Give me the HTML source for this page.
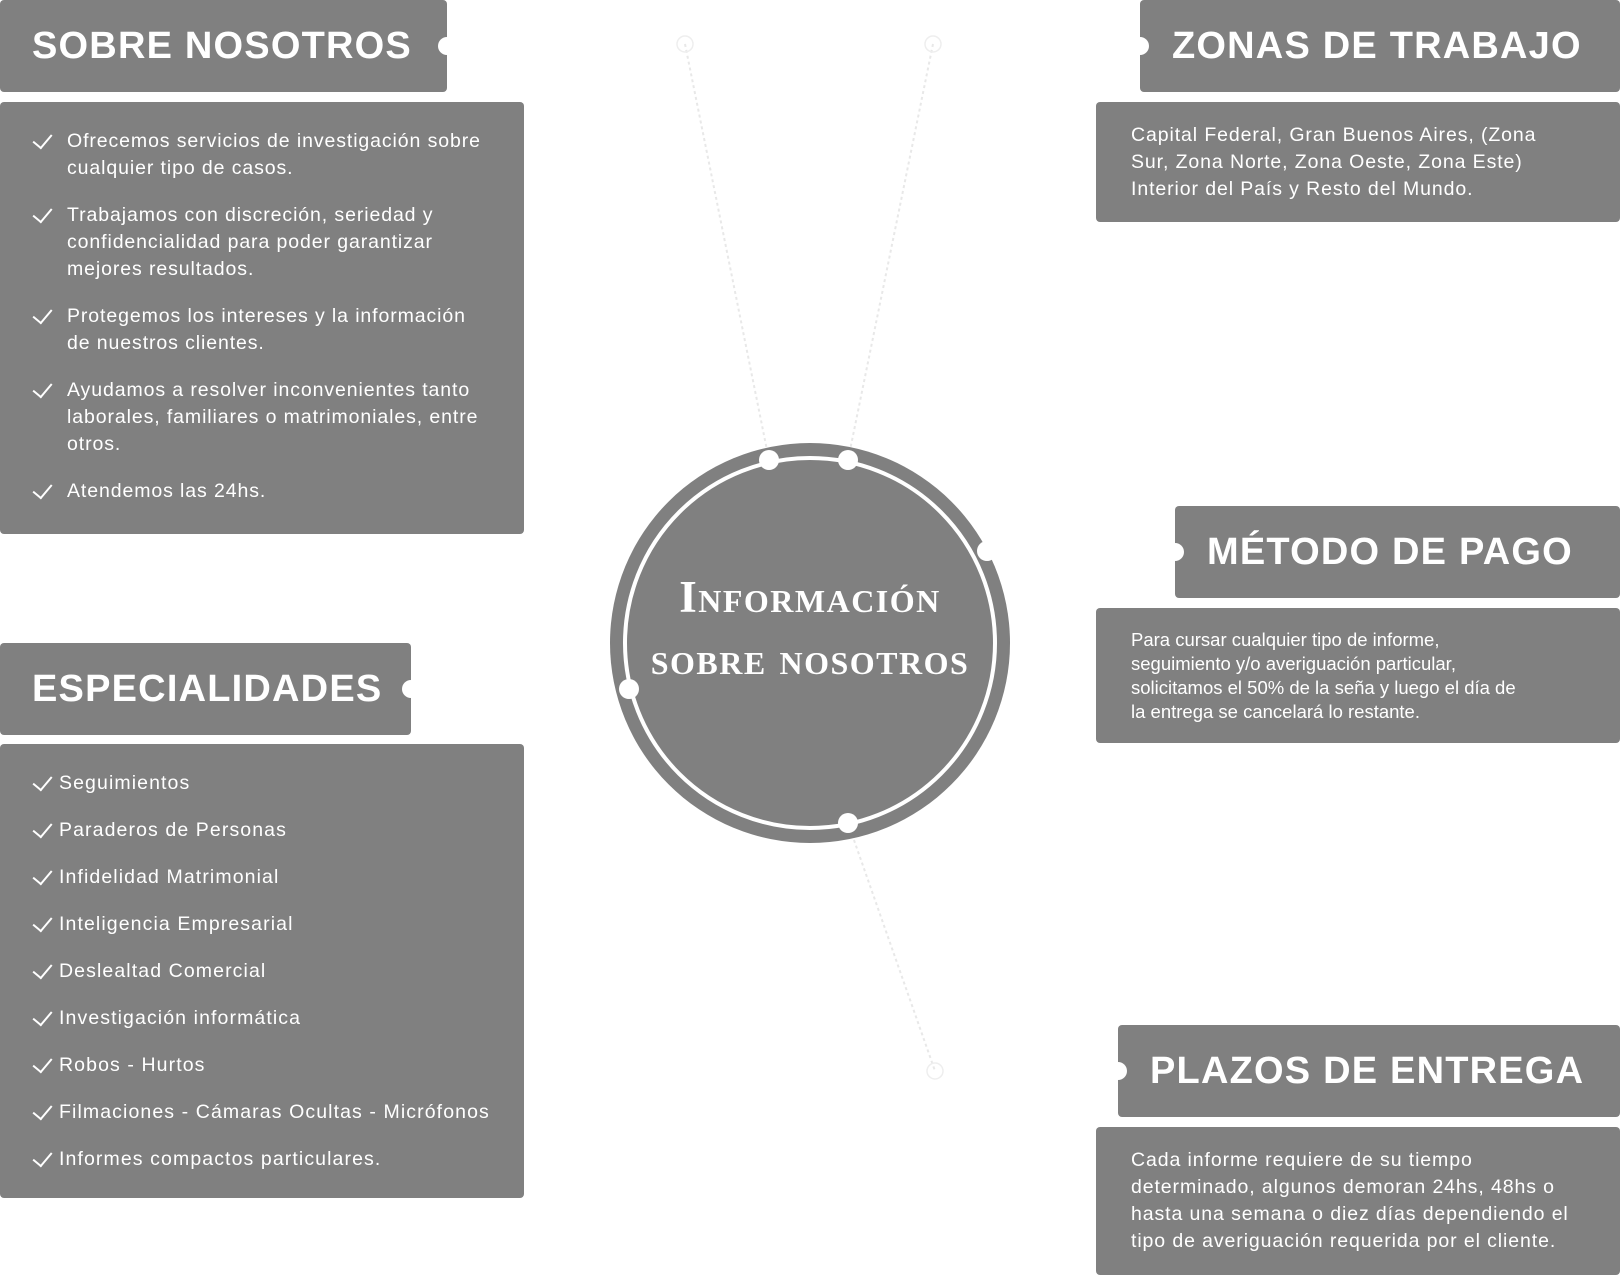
<!DOCTYPE html>
<html><head><meta charset="utf-8"><style>
body{margin:0;width:1620px;height:1275px;background:#fff;position:relative;overflow:hidden;font-family:"Liberation Sans",sans-serif;}
.b{position:absolute;background:#808080;border-radius:4px;color:#fff;}
.h{font-weight:bold;font-size:38px;letter-spacing:1.2px;line-height:92px;}
.dot{position:absolute;width:18px;height:18px;border-radius:50%;background:#fff;}
ul{list-style:none;margin:0;padding:0;}
.l1 li{position:relative;padding-left:67px;font-size:19.5px;line-height:27px;letter-spacing:.9px;margin-bottom:20px;}
.l2 li{position:relative;padding-left:59px;font-size:19.5px;line-height:27px;letter-spacing:1.1px;height:47px;}
.ck{position:absolute;top:2px;width:9px;height:16px;border-right:2px solid #fff;border-bottom:2px solid #fff;transform:rotate(40deg);}
.t{font-size:19.5px;line-height:27px;letter-spacing:.9px;}
</style></head><body>
<svg width="1620" height="1275" style="position:absolute;left:0;top:0">
<g stroke="#e8e8e8" stroke-width="2" stroke-dasharray="3 3" fill="none">
<line x1="685" y1="44" x2="769" y2="460"/>
<line x1="933" y1="44" x2="848" y2="460"/>
<line x1="848" y1="823" x2="935" y2="1071"/>
</g>
<g fill="none" stroke="#eeeeee" stroke-width="1.5"><circle cx="685" cy="44" r="8"/><circle cx="933" cy="44" r="8"/><circle cx="935" cy="1071" r="8"/></g>
<circle cx="810" cy="643" r="200" fill="#808080"/>
<circle cx="810" cy="643" r="185" fill="none" stroke="#fff" stroke-width="4"/>
<g fill="#fff"><circle cx="769" cy="460" r="10"/><circle cx="848" cy="460" r="10"/><circle cx="987" cy="551" r="10"/><circle cx="629" cy="689" r="10"/><circle cx="848" cy="823" r="10"/></g>
<text x="810" y="612" text-anchor="middle" fill="#fff" font-family="Liberation Serif" font-weight="bold" font-size="45" style="font-variant:small-caps" letter-spacing="1.5">Información</text>
<text x="810" y="674" text-anchor="middle" fill="#fff" font-family="Liberation Serif" font-weight="bold" font-size="45" style="font-variant:small-caps" letter-spacing="1.5">sobre nosotros</text>
</svg>

<div class="b h" style="left:0;top:0;width:447px;height:92px;"><span style="margin-left:32px">SOBRE NOSOTROS</span></div>
<div class="dot" style="left:438px;top:37px"></div>
<div class="b" style="left:0;top:102px;width:524px;height:432px;">
<ul class="l1" style="margin-top:26px;padding-right:30px">
<li><span class="ck" style="left:37px"></span>Ofrecemos servicios de investigación sobre cualquier tipo de casos.</li>
<li><span class="ck" style="left:37px"></span>Trabajamos con discreción, seriedad y confidencialidad para poder garantizar mejores resultados.</li>
<li><span class="ck" style="left:37px"></span>Protegemos los intereses y la información de nuestros clientes.</li>
<li><span class="ck" style="left:37px"></span>Ayudamos a resolver inconvenientes tanto laborales, familiares o matrimoniales, entre otros.</li>
<li><span class="ck" style="left:37px"></span>Atendemos las 24hs.</li>
</ul></div>

<div class="b h" style="left:0;top:643px;width:411px;height:92px;"><span style="margin-left:32px">ESPECIALIDADES</span></div>
<div class="dot" style="left:402px;top:680px"></div>
<div class="b" style="left:0;top:744px;width:524px;height:454px;">
<ul class="l2" style="margin-top:26px">
<li><span class="ck" style="left:37px"></span>Seguimientos</li>
<li><span class="ck" style="left:37px"></span>Paraderos de Personas</li>
<li><span class="ck" style="left:37px"></span>Infidelidad Matrimonial</li>
<li><span class="ck" style="left:37px"></span>Inteligencia Empresarial</li>
<li><span class="ck" style="left:37px"></span>Deslealtad Comercial</li>
<li><span class="ck" style="left:37px"></span>Investigación informática</li>
<li><span class="ck" style="left:37px"></span>Robos - Hurtos</li>
<li><span class="ck" style="left:37px"></span>Filmaciones - Cámaras Ocultas - Micrófonos</li>
<li><span class="ck" style="left:37px"></span>Informes compactos particulares.</li>
</ul></div>

<div class="b h" style="left:1140px;top:0;width:480px;height:92px;"><span style="margin-left:32px">ZONAS DE TRABAJO</span></div>
<div class="dot" style="left:1131px;top:37px"></div>
<div class="b t" style="left:1096px;top:102px;width:524px;height:120px;"><div style="padding:20px 60px 0 35px">Capital Federal, Gran Buenos Aires, (Zona Sur, Zona Norte, Zona Oeste, Zona Este) Interior del País y Resto del Mundo.</div></div>

<div class="b h" style="left:1175px;top:506px;width:445px;height:92px;"><span style="margin-left:32px">MÉTODO DE PAGO</span></div>
<div class="dot" style="left:1166px;top:543px"></div>
<div class="b" style="left:1096px;top:608px;width:524px;height:135px;font-size:18.5px;line-height:24px;"><div style="padding:20px 50px 0 35px">Para cursar cualquier tipo de informe,<br>seguimiento y/o averiguación particular,<br>solicitamos el 50% de la seña y luego el día de<br>la entrega se cancelará lo restante.</div></div>

<div class="b h" style="left:1118px;top:1025px;width:502px;height:92px;"><span style="margin-left:32px">PLAZOS DE ENTREGA</span></div>
<div class="dot" style="left:1109px;top:1062px"></div>
<div class="b t" style="left:1096px;top:1127px;width:524px;height:148px;"><div style="padding:20px 30px 0 35px">Cada informe requiere de su tiempo determinado, algunos demoran 24hs, 48hs o hasta una semana o diez días dependiendo el tipo de averiguación requerida por el cliente.</div></div>
</body></html>
